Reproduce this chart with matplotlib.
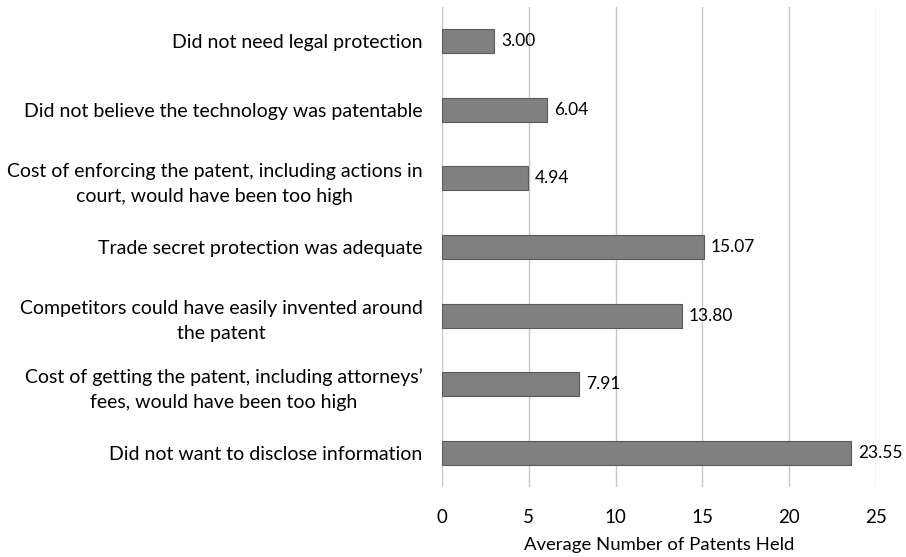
import matplotlib
matplotlib.use("Agg")
import matplotlib.pyplot as plt

plt.rcParams['font.family'] = ['Lato', 'DejaVu Sans']

categories = [
    "Did not need legal protection",
    "Did not believe the technology was patentable",
    "Cost of enforcing the patent, including actions in\ncourt, would have been too high",
    "Trade secret protection was adequate",
    "Competitors could have easily invented around\nthe patent",
    "Cost of getting the patent, including attorneys’\nfees, would have been too high",
    "Did not want to disclose information",
]
values = [3.00, 6.04, 4.94, 15.07, 13.80, 7.91, 23.55]
xticks = [0, 5, 10, 15, 20, 25]
xlabel = "Average Number of Patents Held"

fig = plt.figure(figsize=(9.06, 5.57), dpi=100)
ax = fig.add_axes([442/906, 1-487/557, 434/906, 480/557])

ypos = list(range(len(categories)))
ax.barh(ypos, values, height=0.35, color='#808080', edgecolor='#5a5a5a', linewidth=0.8, zorder=3)
for y, v in zip(ypos, values):
    ax.annotate(f"{v:.2f}", (v, y), xytext=(5, 0), textcoords='offset points',
                va='center', ha='left', fontsize=12.5, color='black')

ax.set_ylim(len(categories) - 0.5, -0.5)
ax.set_xlim(0, 25)
ax.set_xticks(xticks)
ax.set_xticklabels([str(t) for t in xticks], fontsize=13.5)
ax.set_yticks(ypos)
ax.set_yticklabels(categories, fontsize=14, multialignment='center', linespacing=1.55)
ax.tick_params(axis='y', length=0, pad=14)
ax.tick_params(axis='x', length=0, pad=16)
ax.grid(axis='x', color='#c8c8c8', linewidth=1, zorder=0)
for s in ax.spines.values():
    s.set_visible(False)
ax.set_xlabel(xlabel, fontsize=13.3, labelpad=8)

fig.savefig("out.png", dpi=100)
